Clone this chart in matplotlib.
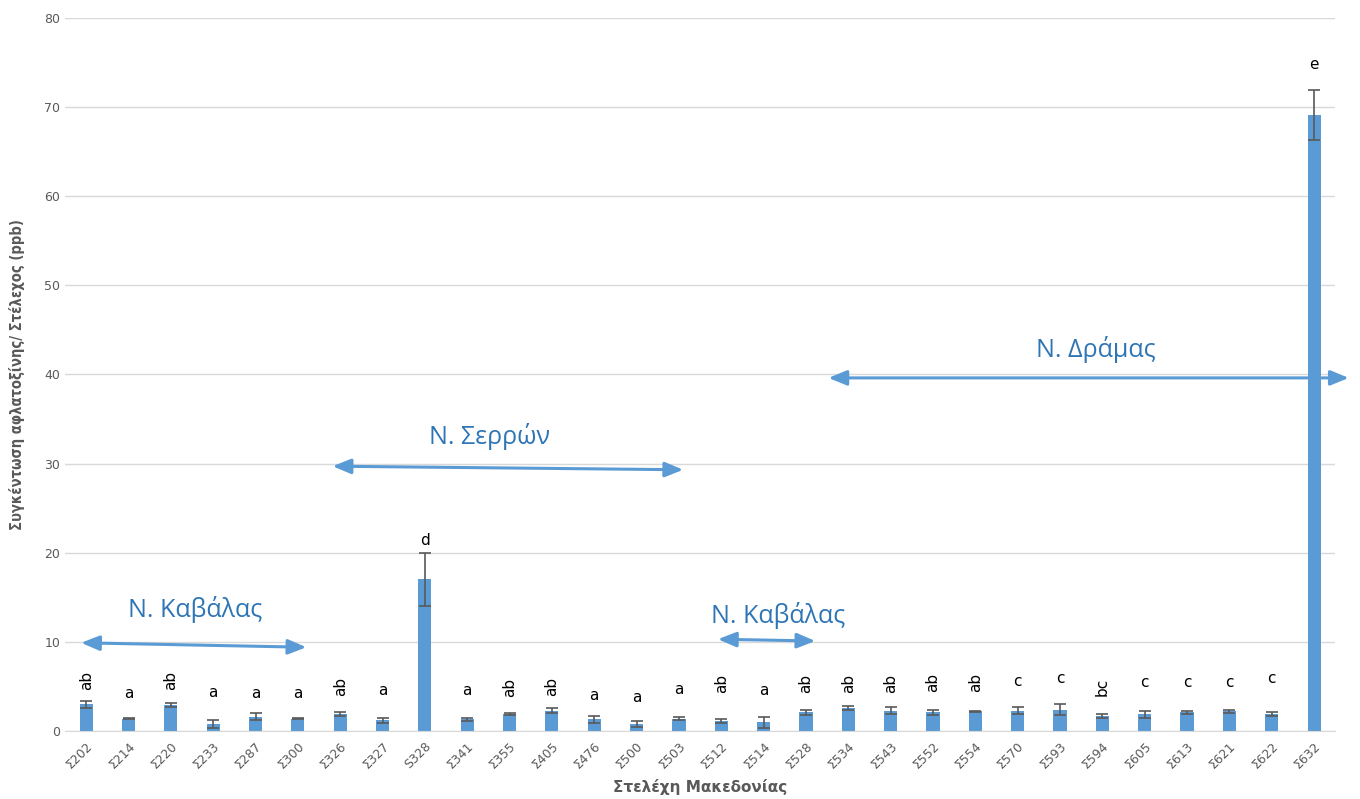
import matplotlib
matplotlib.use("Agg")
import matplotlib.pyplot as plt
import numpy as np

strains = ["Σ202", "Σ214", "Σ220", "Σ233", "Σ287", "Σ300", "Σ326", "Σ327", "S328",
           "Σ341", "Σ355", "Σ405", "Σ476", "Σ500", "Σ503", "Σ512", "Σ514", "Σ528",
           "Σ534", "Σ543", "Σ552", "Σ554", "Σ570", "Σ593", "Σ594", "Σ605", "Σ613",
           "Σ621", "Σ622", "Σ632"]
means = [3.0, 1.4, 2.9, 0.8, 1.6, 1.4, 1.9, 1.2, 17.0,
         1.3, 1.9, 2.3, 1.3, 0.8, 1.4, 1.1, 1.0, 2.1,
         2.6, 2.3, 2.1, 2.2, 2.3, 2.4, 1.7, 1.9, 2.1,
         2.2, 1.9, 69.1]
errors = [0.4, 0.1, 0.2, 0.4, 0.4, 0.1, 0.2, 0.3, 3.0,
          0.2, 0.1, 0.3, 0.4, 0.3, 0.2, 0.2, 0.6, 0.3,
          0.2, 0.4, 0.3, 0.1, 0.4, 0.6, 0.2, 0.4, 0.2,
          0.2, 0.2, 2.8]
groups = ["ab", "a", "ab", "a", "a", "a", "ab", "a", "d",
          "a", "ab", "ab", "a", "a", "a", "ab", "a", "ab",
          "ab", "ab", "ab", "ab", "c", "c", "bc", "c", "c",
          "c", "c", "e"]
group_y = [5.7, 4.2, 5.7, 4.3, 4.2, 4.2, 5.0, 4.5, 21.4,
           4.5, 4.9, 5.0, 4.0, 3.8, 4.7, 5.3, 4.5, 5.3,
           5.3, 5.3, 5.5, 5.5, 5.6, 5.9, 5.0, 5.4, 5.4,
           5.4, 5.9, 74.7]

regions = [
    # label, text (x, y), arrow start (x, y), arrow end (x, y)
    ("Ν. Καβάλας", (2.58, 13.6), (-0.12, 9.9), (5.20, 9.4)),
    ("Ν. Σερρών", (9.53, 33.0), (5.82, 29.7), (14.10, 29.3)),
    ("Ν. Καβάλας", (16.34, 13.0), (14.92, 10.3), (17.22, 10.1)),
    ("Ν. Δράμας", (23.84, 42.8), (17.53, 39.6), (29.82, 39.6)),
]

plt.rcParams["font.family"] = ["DejaVu Sans"]

fig = plt.figure(figsize=(13.6, 7.99), dpi=100)
ax = fig.add_axes([0.0478, 0.085, 0.934, 0.893])

x = np.arange(len(strains))
bar_color = "#5B9BD5"
ax.bar(x, means, width=0.31, color=bar_color, zorder=2)
ax.errorbar(x, means, yerr=errors, fmt="none", ecolor="#595959",
            elinewidth=1.2, capsize=4, capthick=1.2, zorder=3)

for xi, g, gy in zip(x, groups, group_y):
    rot = 90 if len(g) > 1 else 0
    ax.text(xi, gy, g, ha="center", va="center", rotation=rot,
            fontsize=11, color="black", zorder=4)

ax.set_xlim(-0.5, len(strains) - 0.5)
ax.set_ylim(0, 80)
ax.set_yticks(np.arange(0, 81, 10))
ax.yaxis.grid(True, color="#D9D9D9", linewidth=1)
ax.set_axisbelow(True)
for side in ["top", "right", "left"]:
    ax.spines[side].set_visible(False)
ax.spines["bottom"].set_color("#D9D9D9")
ax.tick_params(axis="both", length=0, colors="#595959", labelsize=9)
ax.set_xticks(x)
ax.set_xticklabels(strains, rotation=45, ha="right", rotation_mode="anchor")
ax.tick_params(axis="x", pad=6)

ax.set_ylabel("Συγκέντωση αφλατοξίνης/ Στέλεχος (ppb)", fontsize=10.5,
              fontweight="bold", color="#595959", labelpad=14,
              fontstretch="condensed")
ax.set_xlabel("Στελέχη Μακεδονίας", fontsize=11, fontweight="bold",
              color="#595959", labelpad=6)

# region labels with double-headed arrows (drawn beneath the bars)
for label, (tx, ty), (x0, y0), (x1, y1) in regions:
    ax.text(tx, ty, label, ha="center", va="center", fontsize=18,
            color="#2E75B6", family=["Open Sans", "DejaVu Sans"], zorder=5)
    ax.annotate("", xy=(x1, y1), xytext=(x0, y0),
                arrowprops=dict(arrowstyle="<|-|>,head_length=1.1,head_width=0.45",
                                color=bar_color, lw=2.2,
                                mutation_scale=10, shrinkA=0, shrinkB=0),
                annotation_clip=False, zorder=1.5)

fig.savefig("out.png", dpi=100)
